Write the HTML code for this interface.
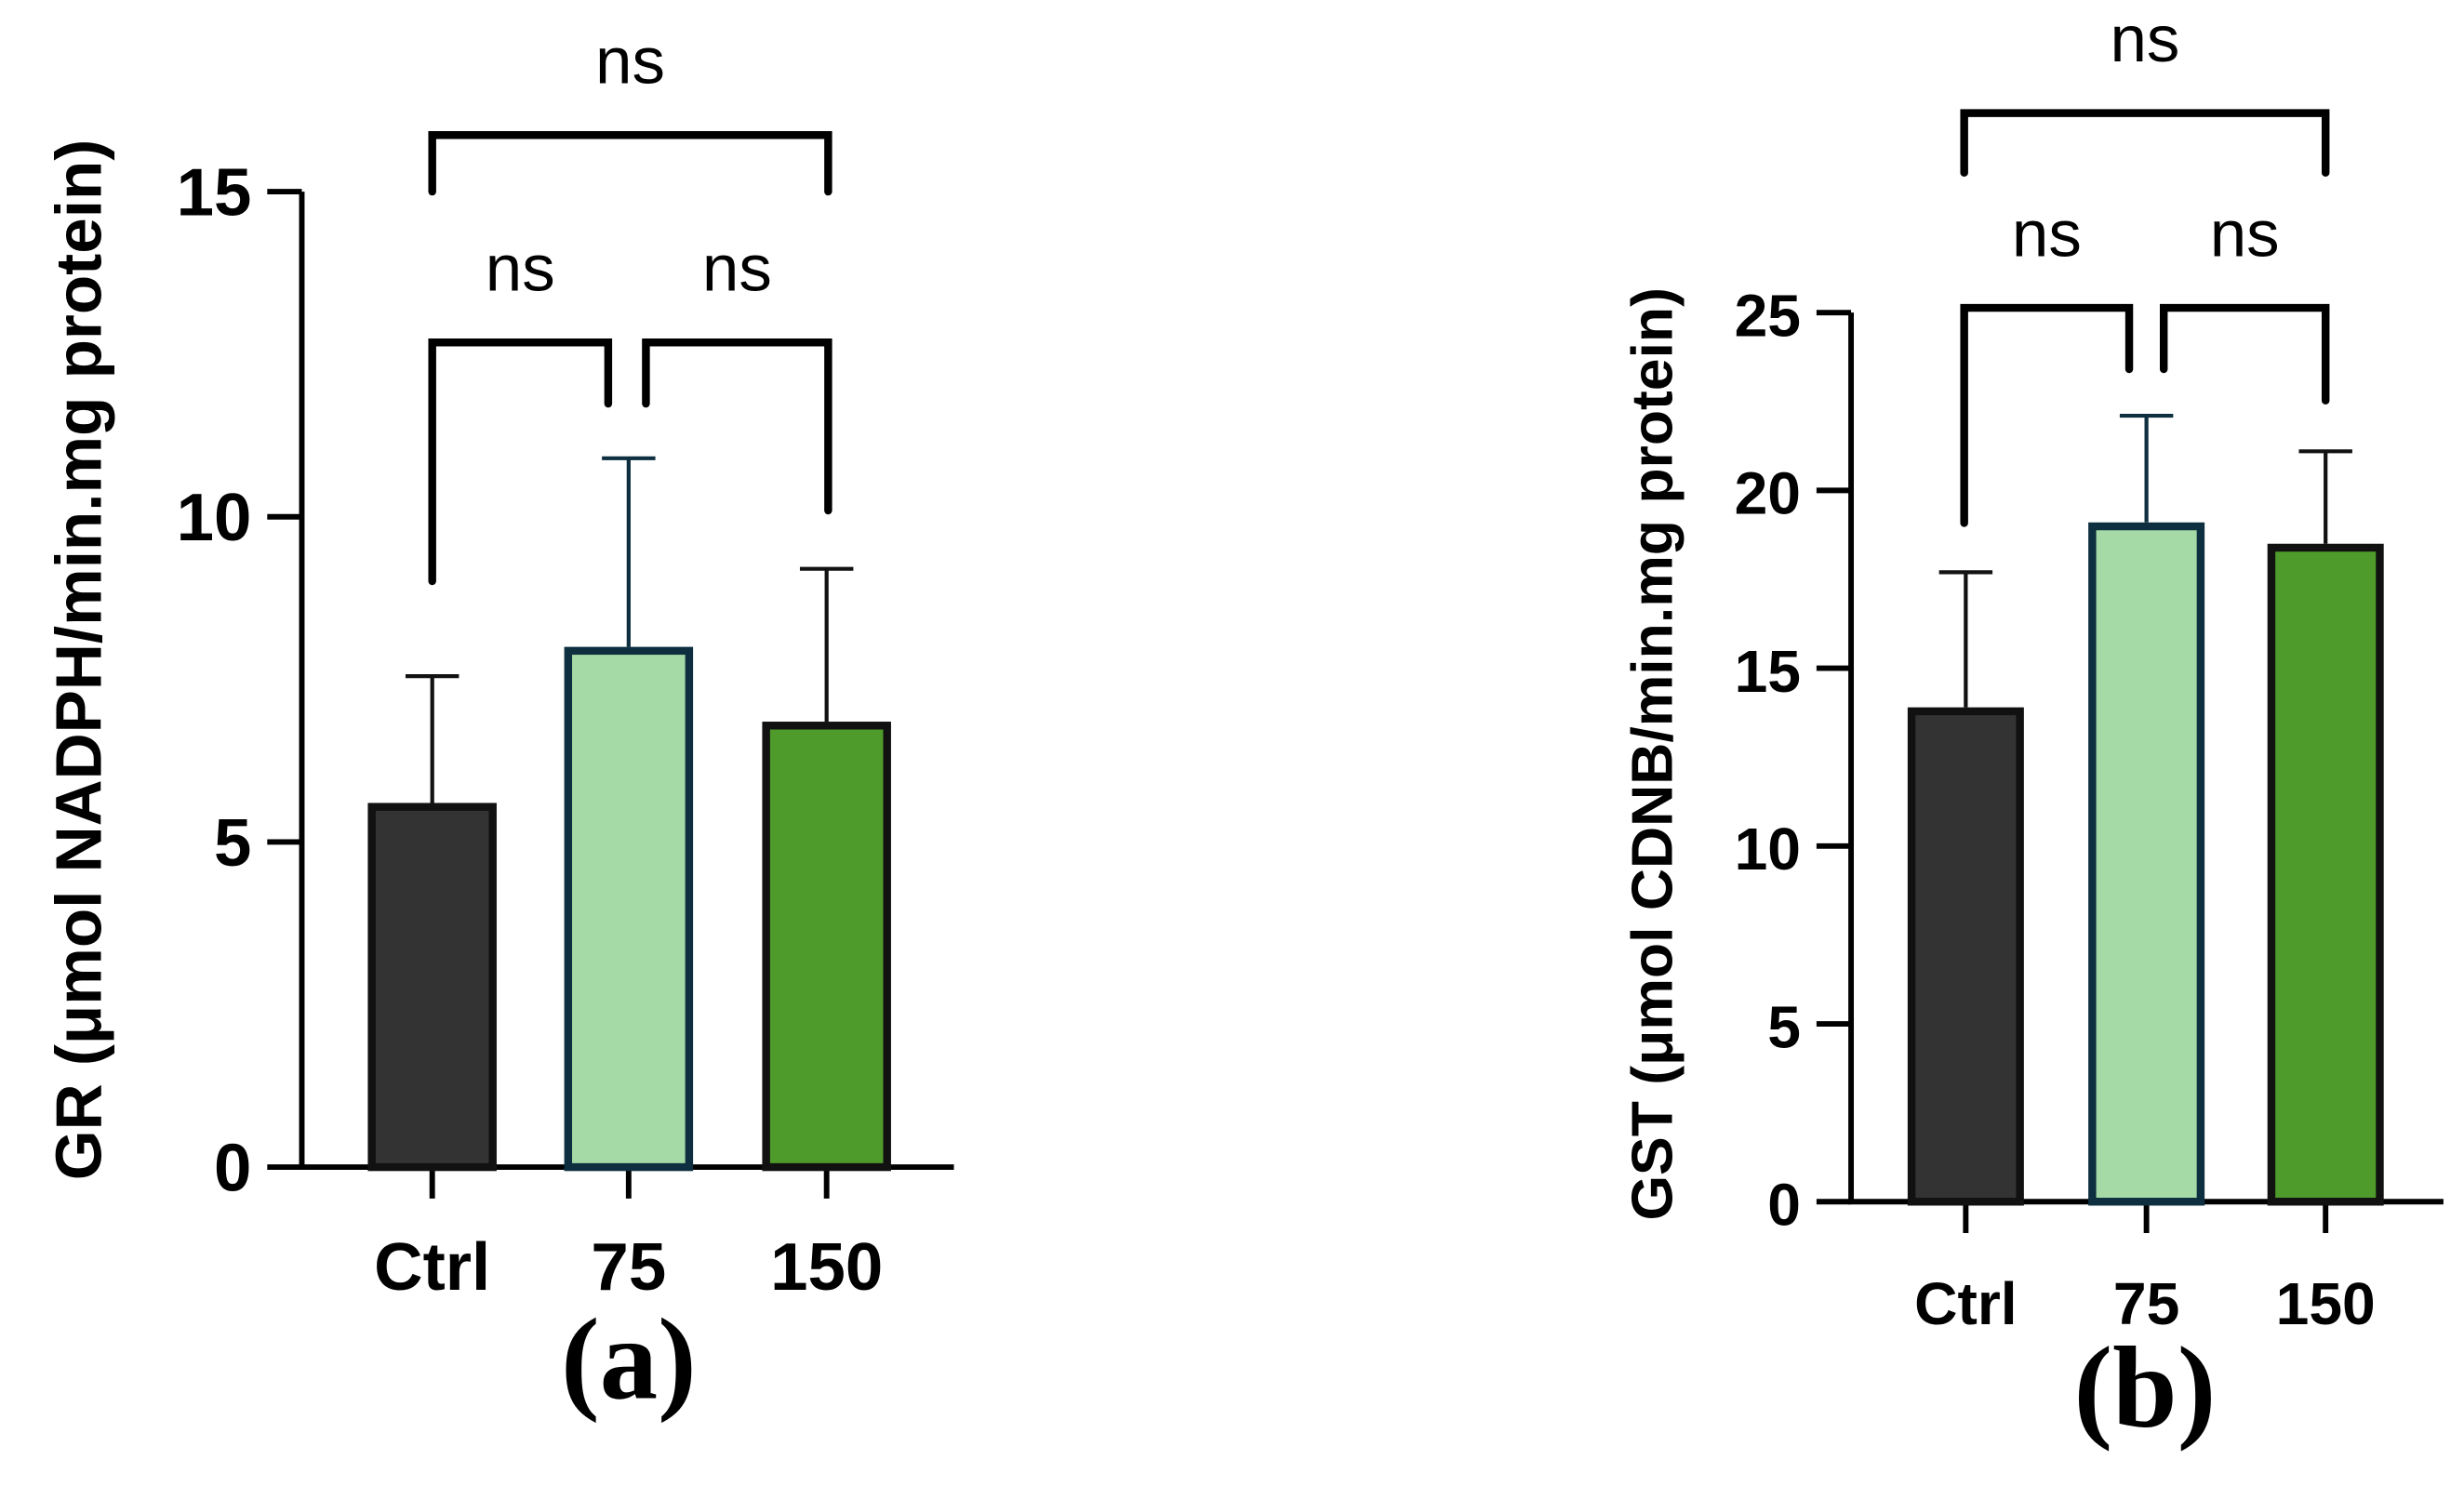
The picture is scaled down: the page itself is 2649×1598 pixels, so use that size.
<!DOCTYPE html>
<html><head><meta charset="utf-8"><style>html,body{margin:0;padding:0;background:#fff}svg{display:block}</style></head>
<body>
<svg id="chart" width="2649" height="1598" viewBox="0 0 1568 946" xmlns="http://www.w3.org/2000/svg" font-family="'Liberation Sans', sans-serif">
</svg>
<script>
const categories = ["Ctrl","75","150"];
const grMeans = [5.6, 8.0, 6.85];
const grErrors = [1.95, 2.9, 2.35];
const grTicks = [0,5,10,15];
const gstMeans = [13.9, 19.1, 18.5];
const gstErrors = [3.8, 3.0, 2.6];
const gstTicks = [0,5,10,15,20,25];
const sigLabels = ["ns","ns","ns"];

const NS = "http://www.w3.org/2000/svg";
const svg = document.getElementById('chart');
function mk(tag, attrs, parent){const e=document.createElementNS(NS,tag);for(const k in attrs)e.setAttribute(k,attrs[k]);(parent||svg).appendChild(e);return e;}
const fills=["#333333","#a5d9a5","#4e9a2a"];
const strokes=["#111111","#0d2f3f","#111111"];
const errCol=["#111111","#0d2f3f","#111111"];

function panel(cfg){
  const g=mk('g',{});
  
  
  const y=v=>cfg.y0-(v/cfg.ymax)*(cfg.y0-cfg.yTop);
  const ax=mk('path',{d:`M${cfg.ax} ${cfg.yTop} V${cfg.y0} H${cfg.axEnd}`,stroke:'#000','stroke-width':3.5,fill:'none'},g);
  
  cfg.ticks.forEach(t=>{
    const l=mk('line',{x1:cfg.ax-22,x2:cfg.ax,y1:y(t),y2:y(t),stroke:'#000','stroke-width':3.5},g);
    
    const tx=mk('text',{x:cfg.ax-32,y:y(t)+15,'text-anchor':'end','font-size':cfg.tickFs,'font-weight':'bold'},g);
    tx.textContent=t;
    
  });
  categories.forEach((c,i)=>{
    const cx=cfg.cx[i];
    const l=mk('line',{x1:cx,x2:cx,y1:cfg.y0,y2:cfg.y0+20,stroke:'#000','stroke-width':3.5},g);
    
    const tx=mk('text',{x:cx,y:cfg.y0+78,'text-anchor':'middle','font-size':cfg.tickFs,'font-weight':'bold'},g);
    tx.textContent=c;
    const top=y(cfg.means[i]), et=y(cfg.means[i]+cfg.errs[i]);
    const e=mk('path',{d:`M${cx} ${top} V${et} M${cx-17} ${et} H${cx+17}`,stroke:errCol[i],'stroke-width':2.5,fill:'none'},g);
    
    const r=mk('rect',{x:cx-cfg.bw/2+2.5,y:top+2.5,width:cfg.bw-5,height:cfg.y0-top-2.5,fill:fills[i],stroke:strokes[i],'stroke-width':5},g);
    
  });
  cfg.brackets.forEach((b,k)=>{
    const p=mk('path',{d:`M${b[0]} ${b[3]} V${b[2]} H${b[1]} V${b[4]}`,stroke:'#000','stroke-width':5,fill:'none','stroke-linecap':'round'},g);
    
    const t=mk('text',{x:(b[0]+b[1])/2,y:b[2]-33,'text-anchor':'middle','font-size':42},g);
    t.textContent=sigLabels[k];
  });
  const tt=mk('text',{transform:`translate(${cfg.titleX},${cfg.titleY}) rotate(-90)`,'text-anchor':'middle','font-size':cfg.titleFs,'font-weight':'bold'},g);
  tt.textContent=cfg.title;
  const pl=mk('text',{x:cfg.labelX,y:cfg.labelY,'text-anchor':'middle','font-size':74,'font-weight':'bold','font-family':"'Liberation Serif', serif"},g);
  pl.textContent=cfg.label;
}
panel({name:'panel-a-gr',ax:192,axEnd:607,y0:743,yTop:122,ymax:15,ticks:grTicks,cx:[275,400,526],bw:82,
  means:grMeans,errs:grErrors,tickFs:43,titleFs:41,
  brackets:[[275,527,86,122,122],[275,387,218,370,257],[411,527,218,257,325]],
  title:'GR (μmol NADPH/min.mg protein)',titleX:64,titleY:420,label:'(a)',labelX:400,labelY:890});
panel({name:'panel-b-gst',ax:1178,axEnd:1555,y0:765,yTop:199,ymax:25,ticks:gstTicks,cx:[1251,1366,1480],bw:74,
  means:gstMeans,errs:gstErrors,tickFs:38,titleFs:37,
  brackets:[[1250,1480,72,110,110],[1250,1355,196,333,235],[1377,1480,196,235,255]],
  title:'GST (μmol CDNB/min.mg protein)',titleX:1064,titleY:480,label:'(b)',labelX:1365,labelY:908});
</script>
</body></html>
